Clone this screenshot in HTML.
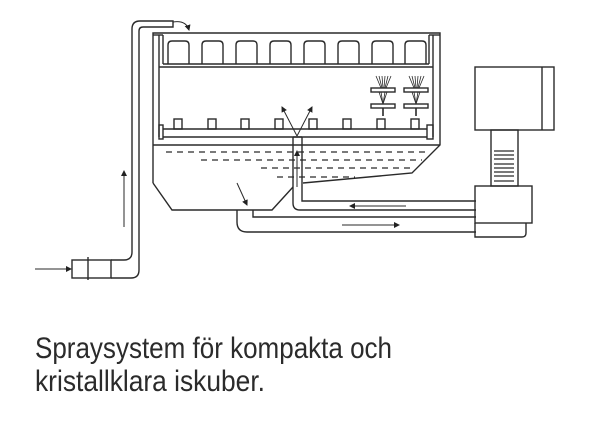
<!DOCTYPE html>
<html><head><meta charset="utf-8"><style>
html,body{margin:0;padding:0;background:#fff;}
svg{display:block}
</style></head><body>
<svg width="600" height="443" viewBox="0 0 600 443" xmlns="http://www.w3.org/2000/svg">
<defs>
<marker id="ah" markerWidth="6" markerHeight="6" refX="5" refY="3" orient="auto" markerUnits="userSpaceOnUse"><path d="M0,0 L6,3 L0,6 z" fill="#222"/></marker>
</defs>
<g fill="none" stroke="#2a2a2a" stroke-width="1.4">
<path d="M111,260 H124 Q132,260 132,252 V29 Q132,21 140,21 H173 V27 H143 Q139,27 139,31 V270 Q139,278 131,278 H111"/>
<rect x="72" y="260" width="39" height="18"/>
<line x1="88" y1="257" x2="88" y2="280"/>
<line x1="35" y1="269" x2="71" y2="269" marker-end="url(#ah)" stroke-width="1"/>
<line x1="124" y1="227" x2="124" y2="171" marker-end="url(#ah)" stroke-width="1"/>
<path d="M173,22 Q186,20 189,30" marker-end="url(#ah)" stroke-width="1"/>
<path d="M153,183 V33 H440 V145 L412,173 L303,183"/>
<path d="M153,183 L172,210 H272 L293,187"/>
<line x1="153" y1="145" x2="440" y2="145"/>
<line x1="159" y1="35" x2="159" y2="137"/>
<line x1="163" y1="35" x2="163" y2="64"/>
<line x1="433" y1="35" x2="433" y2="137"/>
<line x1="429" y1="35" x2="429" y2="64"/>
<line x1="153" y1="35" x2="163" y2="35"/>
<line x1="429" y1="35" x2="440" y2="35"/>
<line x1="163" y1="64" x2="429" y2="64"/>
<line x1="159" y1="67" x2="433" y2="67"/>
<path d="M168,64 V45 Q168,41 172,41 H185 Q189,41 189,45 V64"/>
<path d="M202,64 V45 Q202,41 206,41 H219 Q223,41 223,45 V64"/>
<path d="M236,64 V45 Q236,41 240,41 H253 Q257,41 257,45 V64"/>
<path d="M270,64 V45 Q270,41 274,41 H287 Q291,41 291,45 V64"/>
<path d="M304,64 V45 Q304,41 308,41 H321 Q325,41 325,45 V64"/>
<path d="M338,64 V45 Q338,41 342,41 H355 Q359,41 359,45 V64"/>
<path d="M372,64 V45 Q372,41 376,41 H389 Q393,41 393,45 V64"/>
<path d="M405,64 V45 Q405,41 409,41 H422 Q426,41 426,45 V64"/>
<line x1="163" y1="129" x2="427" y2="129"/>
<line x1="163" y1="137" x2="427" y2="137"/>
<rect x="159" y="125" width="4" height="14"/>
<rect x="427" y="125" width="6" height="14"/>
<rect x="174" y="119" width="8" height="10"/>
<rect x="208" y="119" width="8" height="10"/>
<rect x="241" y="119" width="8" height="10"/>
<rect x="275" y="119" width="8" height="10"/>
<rect x="309" y="119" width="8" height="10"/>
<rect x="343" y="119" width="8" height="10"/>
<rect x="377" y="119" width="8" height="10"/>
<rect x="411" y="119" width="8" height="10"/>
<rect x="371" y="88" width="24" height="4"/>
<rect x="371" y="104" width="24" height="4"/>
<rect x="404" y="88" width="24" height="4"/>
<rect x="404" y="104" width="24" height="4"/>
<g stroke-width="0.8">
<path d="M376,76 L381,88 M379,76 L382,88 M382,76 L383,88 M385,76 L384,88 M388,76 L385,88 M391,76 L386,88"/>
<path d="M409,76 L414,88 M412,76 L415,88 M415,76 L416,88 M418,76 L417,88 M421,76 L418,88 M424,76 L419,88"/>
<path d="M379,92 L383,104 M381,92 L383,104 M385,92 L383,104 M387,92 L383,104"/>
<path d="M412,92 L416,104 M414,92 L416,104 M418,92 L416,104 M420,92 L416,104"/>
</g>
<path d="M383,108 V116 M416,108 V116" stroke-width="1.6"/>
<g stroke-dasharray="6,5" stroke-width="1.2">
<line x1="166" y1="152" x2="430" y2="152"/>
<line x1="201" y1="160" x2="422" y2="160"/>
<line x1="261" y1="168" x2="413" y2="168"/>
<line x1="277" y1="177" x2="355" y2="177"/>
</g>
<path d="M293,137 V203 Q293,210 300,210 H476"/>
<path d="M302,137 V201 H476"/>
<line x1="293" y1="137" x2="302" y2="137"/>
<line x1="297" y1="187" x2="297" y2="151" marker-end="url(#ah)" stroke-width="1"/>
<line x1="297" y1="136" x2="282" y2="107" marker-end="url(#ah)" stroke-width="1"/>
<line x1="297" y1="136" x2="312" y2="107" marker-end="url(#ah)" stroke-width="1"/>
<line x1="237" y1="183" x2="247" y2="205" marker-end="url(#ah)" stroke-width="1"/>
<path d="M237,210 V222 Q237,232 247,232 H476"/>
<path d="M253,210 V217 H476"/>
<line x1="406" y1="206" x2="350" y2="206" marker-end="url(#ah)" stroke-width="1"/>
<line x1="342" y1="225" x2="399" y2="225" marker-end="url(#ah)" stroke-width="1"/>
<rect x="475" y="67" width="79" height="63"/>
<line x1="542" y1="67" x2="542" y2="130"/>
<rect x="491" y="130" width="27" height="56"/>
<g stroke-width="1.2">
<line x1="494" y1="151" x2="514" y2="151"/>
<line x1="494" y1="155" x2="514" y2="155"/>
<line x1="494" y1="159" x2="514" y2="159"/>
<line x1="494" y1="164" x2="514" y2="164"/>
<line x1="494" y1="168" x2="514" y2="168"/>
<line x1="494" y1="172" x2="514" y2="172"/>
<line x1="494" y1="176" x2="514" y2="176"/>
<line x1="494" y1="181" x2="514" y2="181"/>
</g>
<rect x="475" y="186" width="57" height="37"/>
<path d="M475,223 V237 H522 Q526,237 526,233 V223"/>
</g>
<g fill="#2b2b2b" font-family="Liberation Sans, sans-serif" font-size="30">
<text x="35" y="358" textLength="357" lengthAdjust="spacingAndGlyphs">Spraysystem för kompakta och</text>
<text x="35" y="391" textLength="230" lengthAdjust="spacingAndGlyphs">kristallklara iskuber.</text>
</g>
</svg>
</body></html>
